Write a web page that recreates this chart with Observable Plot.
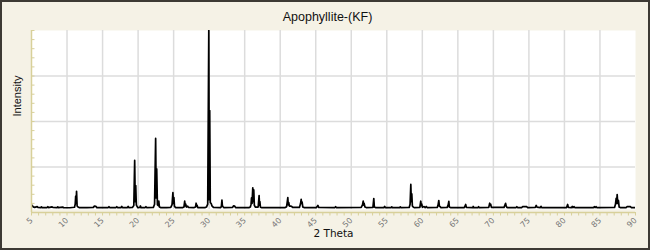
<!DOCTYPE html>
<html><head><meta charset="utf-8">
<script src="https://cdn.jsdelivr.net/npm/d3@7"></script>
<script src="https://cdn.jsdelivr.net/npm/@observablehq/plot@0.6"></script>
<style>
html,body{margin:0;padding:0;background:#f5f2e6;}
#chart{width:650px;height:250px;}
</style></head><body><div id="chart"></div>
<script>
const title = "Apophyllite-(KF)";
const xLabel = "2 Theta";
const yLabel = "Intensity";

const twoTheta = [
  5.00, 5.12, 5.25, 5.45, 5.80, 5.90, 6.30, 6.40, 6.50, 7.20, 7.30, 7.40, 7.90, 8.00, 8.60, 8.70, 8.80, 9.40, 9.50, 10.40,
  11.05, 11.15, 11.22, 11.28, 11.34, 11.42, 11.55, 11.70, 12.80, 13.70, 13.85, 14.05, 14.20,
  15.80, 15.90, 16.00, 16.90, 17.00, 17.10, 17.60, 17.70, 17.80, 18.50, 18.60, 18.70,
  19.20, 19.40, 19.52, 19.60, 19.67, 19.75, 19.82, 19.95, 20.25, 20.32, 20.42, 21.00, 21.10, 21.20,
  22.15, 22.32, 22.47, 22.55, 22.62, 22.72, 22.85, 22.92, 23.00, 23.20, 24.00,
  24.60, 24.78, 24.90, 24.97, 25.04, 25.12, 25.30, 26.30, 26.45, 26.56, 26.63, 26.70, 26.80, 26.98, 27.08,
  27.90, 28.08, 28.17, 28.23, 28.30, 28.40, 29.40, 29.62, 29.80, 29.95, 30.02, 30.08, 30.16, 30.30, 30.40, 30.60,
  31.60, 31.72, 31.80, 31.86, 31.93, 32.05, 33.30, 33.42, 33.60, 33.72,
  35.60, 35.80, 35.90, 35.96, 36.04, 36.14, 36.21, 36.28, 36.36, 36.50, 36.90, 37.03, 37.09, 37.14, 37.22, 37.40,
  40.70, 40.90, 40.98, 41.07, 41.13, 41.20, 41.30, 41.45, 41.60, 41.75,
  42.70, 42.86, 42.95, 43.01, 43.08, 43.18, 43.40, 45.10, 45.22, 45.30, 45.42, 47.70, 47.80, 47.90,
  51.40, 51.58, 51.68, 51.75, 51.81, 51.92, 52.10, 53.05, 53.17, 53.25, 53.40,
  54.60, 54.70, 54.80, 55.60, 55.70, 55.80, 56.80, 56.90, 57.00,
  58.15, 58.28, 58.38, 58.45, 58.52, 58.60, 58.75, 58.90, 59.65, 59.78, 59.85, 59.92, 60.02, 60.25, 60.40, 60.55, 60.70,
  62.10, 62.22, 62.32, 62.40, 62.50, 62.62, 63.50, 63.64, 63.73, 63.80, 63.95,
  65.90, 66.02, 66.10, 66.20, 67.10, 67.16, 67.24, 67.85, 67.92, 68.00,
  69.35, 69.48, 69.55, 69.62, 69.72, 71.50, 71.64, 71.72, 71.80, 71.90, 72.00,
  73.20, 73.30, 73.40, 74.00, 74.10, 74.70, 74.80, 75.90, 76.03, 76.12, 76.60, 76.70, 76.80,
  80.30, 80.45, 80.55, 81.00, 81.10, 81.20, 81.35, 81.45, 84.10, 84.20, 84.30, 84.45, 84.55,
  87.05, 87.18, 87.28, 87.35, 87.42, 87.50, 87.60, 87.70, 87.85, 88.70, 88.80, 89.30, 89.40, 90.00
];
const intensity = [
  4.2, 3.7, 3.1, 2.8, 3.2, 2.8, 2.7, 3.1, 2.7, 2.7, 3.2, 2.7, 3.1, 2.8, 2.7, 3.1, 2.7, 3.0, 2.7, 2.6,
  2.9, 4.5, 9.0, 5.0, 11.6, 3.6, 3.0, 2.7, 2.7, 2.8, 3.5, 3.4, 2.7,
  2.7, 3.2, 2.7, 2.7, 3.2, 2.7, 2.7, 3.3, 2.7, 2.7, 3.3, 2.7,
  2.8, 3.8, 28.6, 6.0, 14.8, 4.2, 3.6, 2.7, 2.8, 3.6, 2.7, 2.7, 3.2, 2.7,
  2.8, 4.5, 40.7, 8.0, 24.0, 4.2, 3.8, 6.2, 3.0, 2.7, 2.7,
  2.8, 4.3, 11.0, 5.0, 8.2, 3.4, 2.7, 2.7, 3.0, 6.2, 3.6, 4.6, 3.0, 3.5, 2.8,
  2.7, 3.0, 5.1, 3.5, 4.0, 2.7, 2.7, 3.0, 4.6, 100, 7.0, 56, 5.5, 4.8, 3.6, 2.8,
  2.7, 3.2, 6.8, 3.8, 3.3, 2.7, 2.8, 3.6, 3.5, 2.7,
  2.7, 3.0, 4.6, 8.0, 5.0, 13.6, 6.0, 12.4, 4.0, 3.0, 3.0, 9.3, 4.0, 6.0, 2.9, 2.7,
  2.7, 3.2, 5.5, 8.2, 4.2, 5.5, 3.5, 3.5, 3.4, 2.8,
  2.8, 4.8, 7.2, 5.0, 5.8, 3.0, 2.7, 2.7, 3.4, 3.9, 2.8, 2.7, 3.2, 2.7,
  2.8, 4.2, 6.3, 4.0, 5.0, 3.0, 2.7, 2.8, 7.6, 3.0, 2.7,
  2.7, 3.3, 2.7, 2.7, 3.1, 2.7, 2.7, 3.1, 2.7,
  2.8, 4.5, 15.4, 6.0, 10.3, 3.6, 2.9, 2.7, 2.8, 6.2, 3.8, 4.6, 2.9, 3.3, 2.7, 3.3, 2.7,
  2.8, 4.2, 6.6, 3.5, 3.2, 2.7, 2.8, 4.2, 6.1, 3.0, 2.7,
  2.7, 3.7, 4.4, 2.8, 2.7, 3.3, 2.7, 2.7, 3.2, 2.7,
  2.8, 5.1, 4.0, 4.5, 2.8, 2.8, 4.2, 5.0, 3.6, 2.8, 2.7,
  2.7, 3.2, 2.7, 2.7, 3.2, 3.2, 2.7, 2.8, 3.9, 3.0, 2.7, 3.4, 2.7,
  2.7, 4.4, 2.8, 2.7, 3.3, 2.7, 3.2, 2.7, 2.7, 3.2, 2.7, 3.2, 2.7,
  2.8, 4.5, 7.8, 5.0, 9.9, 5.0, 6.6, 3.0, 2.7, 2.7, 3.2, 3.2, 2.7, 2.7
];

const xTicks = [5, 10, 15, 20, 25, 30, 35, 40, 45, 50, 55, 60, 65, 70, 75, 80, 85, 90];
const xGrid = [10, 15, 20, 25, 30, 35, 40, 45, 50, 55, 60, 65, 70, 75, 80, 85];
const xMinorTicks = d3.range(5, 91, 1);
const yGrid = [25, 50, 75];
const yTicks = d3.range(0, 101, 5);

const data = twoTheta.map((t, i) => ({t, v: intensity[i]}));
const axisColor = "#d8d09a";
const gridColor = "#dcdcdc";

const plot = Plot.plot({
  width: 650, height: 250,
  marginTop: 30, marginBottom: 38, marginLeft: 31, marginRight: 15,
  style: {background: "#f5f2e6", fontFamily: "DejaVu Sans", overflow: "visible"},
  x: {domain: [5, 90], axis: null},
  y: {domain: [0, 100], axis: null},
  marks: [
    Plot.frame({fill: "white", stroke: null, insetBottom: 3}),
    Plot.ruleX(xGrid, {stroke: gridColor, strokeWidth: 1.5, insetBottom: 3}),
    Plot.ruleY(yGrid, {stroke: gridColor, strokeWidth: 1.5}),
    Plot.line(data, {x: "t", y: "v", stroke: "black", strokeWidth: 1.7, clip: true}),
    Plot.ruleX([5], {stroke: axisColor, strokeWidth: 1.5}),
    Plot.ruleY([0], {stroke: axisColor, strokeWidth: 1.5}),
    Plot.axisY({ticks: yTicks, tickSize: -3.5, fill: "none", stroke: axisColor, label: null}),
    Plot.axisX({ticks: xMinorTicks, tickSize: 3.5, fill: "none", stroke: axisColor, label: null}),
    Plot.axisX({ticks: xTicks, tickSize: 3.5, tickPadding: 3, tickRotate: -45, stroke: "none",
      fill: "#777", fontSize: 8, label: null}),
    Plot.text([xLabel], {frameAnchor: "bottom", dy: 24, text: d => d, fontSize: 10.5,
      fontFamily: "DejaVu Sans", fill: "#111"}),
    Plot.text([yLabel], {frameAnchor: "left", dx: -14, dy: -5, rotate: -90, text: d => d,
      fontSize: 11, fontFamily: "Liberation Sans", fill: "#111"}),
    Plot.text([title], {frameAnchor: "top", dy: -18, dx: -6, text: d => d, fontSize: 12.5,
      fontFamily: "Liberation Sans", fill: "#111"})
  ]
});
d3.select(plot).append("rect")
  .attr("x", 1).attr("y", 1).attr("width", 648).attr("height", 248)
  .attr("fill", "none").attr("stroke", "#3d3a34").attr("stroke-width", 2);
document.getElementById("chart").appendChild(plot);
</script>
</body></html>
